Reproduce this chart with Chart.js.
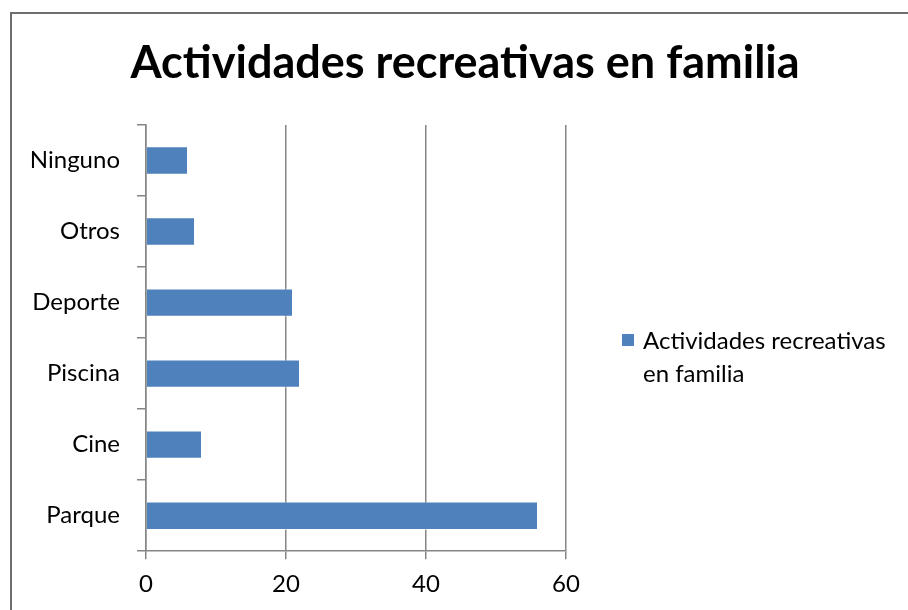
<!DOCTYPE html>
<html lang="es">
<head>
    <meta charset="UTF-8">
    <title>Actividades recreativas en familia</title>
    <script src="https://cdn.jsdelivr.net/npm/chart.js"></script>
    <style>
        body {
            margin: 0;
            background: #ffffff;
            overflow: hidden;
        }
        .wrap {
            position: relative;
            width: 908px;
            height: 610px;
        }
        .frame {
            position: absolute;
            left: 10px;
            top: 12px;
            width: 920px;
            height: 620px;
            border-top: 2px solid #6e6e6e;
            border-left: 2px solid #6e6e6e;
            pointer-events: none;
        }
        canvas {
            position: absolute;
            left: 0;
            top: 0;
        }
    </style>
</head>
<body>
    <div class="wrap">
        <canvas id="barChart" width="908" height="610"></canvas>
        <div class="frame"></div>
    </div>

    <script>
        const chartTitle = 'Actividades recreativas en familia';
        const seriesName = 'Actividades recreativas en familia';
        const categories = ['Ninguno', 'Otros', 'Deporte', 'Piscina', 'Cine', 'Parque'];
        const values = [6, 7, 21, 22, 8, 56];
        const xTicks = [0, 20, 40, 60];

        const fontName = 'Lato';
        const barColor = '#4f81bd';
        const lineColor = '#868686';

        // legend on the right, wrapped on two lines like the original
        const sideLegend = {
            id: 'sideLegend',
            afterDraw(chart) {
                const ctx = chart.ctx;
                const ds = chart.data.datasets[0];
                ctx.save();
                ctx.fillStyle = ds.backgroundColor;
                ctx.fillRect(622, 334, 12, 12);
                ctx.font = '24px ' + fontName;
                ctx.fillStyle = '#000000';
                ctx.textBaseline = 'middle';
                const words = ds.label.split(' ');
                const lines = [words.slice(0, 2).join(' '), words.slice(2).join(' ')];
                lines.forEach((line, i) => ctx.fillText(line, 643, 341 + i * 33));
                ctx.restore();
            }
        };

        const ctx = document.getElementById('barChart').getContext('2d');
        new Chart(ctx, {
            type: 'bar',
            data: {
                labels: categories,
                datasets: [{
                    label: seriesName,
                    data: values,
                    backgroundColor: barColor,
                    borderColor: 'rgba(255, 255, 255, 0.55)',
                    borderWidth: 1,
                    barPercentage: 0.4,
                    categoryPercentage: 1
                }]
            },
            plugins: [sideLegend],
            options: {
                indexAxis: 'y',
                responsive: false,
                animation: false,
                layout: {
                    padding: { top: 0, right: 0, bottom: 0, left: 22 }
                },
                plugins: {
                    legend: { display: false },
                    tooltip: { enabled: false },
                    title: {
                        display: true,
                        text: chartTitle,
                        color: '#000000',
                        font: { family: fontName, size: 45, weight: 'bold' },
                        padding: { top: 36, bottom: 35 }
                    }
                },
                scales: {
                    x: {
                        min: 0,
                        max: 60,
                        afterBuildTicks(scale) {
                            scale.ticks = xTicks.map(v => ({ value: v }));
                        },
                        grid: {
                            color: lineColor,
                            lineWidth: 1.5,
                            tickLength: 8,
                            drawTicks: true
                        },
                        border: { color: lineColor, width: 1.5 },
                        ticks: {
                            color: '#000000',
                            padding: 11,
                            font: { family: fontName, size: 24 }
                        }
                    },
                    y: {
                        offset: true,
                        afterFit(scale) {
                            scale.width = 124;
                        },
                        grid: {
                            offset: true,
                            drawOnChartArea: false,
                            color: lineColor,
                            lineWidth: 1.5,
                            tickLength: 9
                        },
                        border: { color: lineColor, width: 1.5 },
                        ticks: {
                            color: '#000000',
                            padding: 17,
                            font: { family: fontName, size: 24 }
                        }
                    },
                    // empty box on the right that keeps room for the legend
                    legendSpace: {
                        type: 'category',
                        position: 'right',
                        afterFit(scale) {
                            scale.width = 342;
                        },
                        grid: { display: false, drawTicks: false },
                        border: { display: false },
                        ticks: { display: false }
                    }
                }
            }
        });
    </script>
</body>
</html>
